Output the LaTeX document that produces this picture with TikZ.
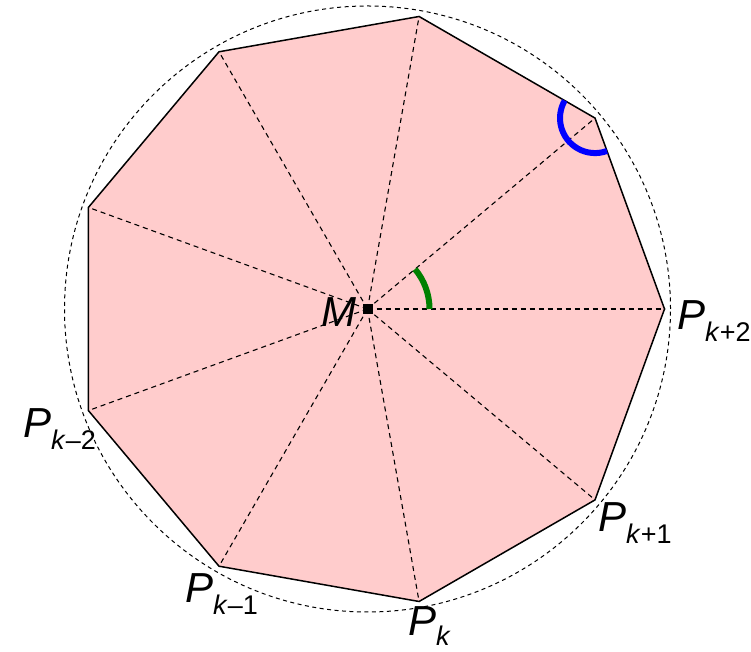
\documentclass[tikz,border=0pt]{standalone}
\usepackage{fontspec}
\setmainfont{Liberation Sans}
\definecolor{pinkfill}{RGB}{255,204,204}
\definecolor{darkgreen}{RGB}{0,128,0}
\newcommand\Plbl[2][12pt]{\textit{P}\raisebox{-#1}{\fontsize{27}{30}\selectfont #2}}
\begin{document}
\begin{tikzpicture}[x=1pt,y=1pt,
  lbl/.style={anchor=base west, inner sep=0pt, font=\fontsize{42}{48}\selectfont},
  ray/.style={dash pattern=on 5pt off 4pt, line width=1.1pt},
  circ/.style={dash pattern=on 4pt off 3.5pt, line width=1pt},
  edge/.style={line width=1.5pt},
  greenarc/.style={draw=darkgreen, line width=6pt},
  bluearc/.style={draw=blue, line width=6pt},
  centre/.style={fill=black, minimum size=10pt, inner sep=0pt}]
\useasboundingbox (0,0) rectangle (751,652);
\coordinate (M) at (367.5,343);
\foreach \i in {0,...,8} \coordinate (V\i) at ([shift={(M)}]{-40*\i}:297);
\fill[pinkfill] (V0) -- (V1) -- (V2) -- (V3) -- (V4) -- (V5) -- (V6) -- (V7) -- (V8) -- cycle;
\foreach \i in {0,...,8} \draw[ray] (M) -- (V\i);
\draw[edge] (V0) -- (V1) -- (V2) -- (V3) -- (V4) -- (V5) -- (V6) -- (V7) -- (V8) -- cycle;
\draw[circ] (M) circle[radius=303];
\draw[greenarc] ([shift={(M)}]0:62) arc[start angle=0, end angle=40, radius=62];
\draw[bluearc] ([shift={(V8)}]150:35) arc[start angle=150, end angle=290, radius=35];
\node[centre] (Mc) at (M) {};
\node[lbl] (LM) at (321,325) {\textit{M}};
\node[lbl] (L0) at (677,322) {\Plbl{\textit{k}+2}};
\node[lbl] (L1) at (598,120) {\Plbl{\textit{k}+1}};
\node[lbl] (L2) at (408,16) {\Plbl[9pt]{\textit{k}}};
\node[lbl] (L3) at (185,49) {\Plbl{\textit{k}–1}};
\node[lbl] (L4) at (23,214) {\Plbl{\textit{k}–2}};
\end{tikzpicture}
\end{document}
